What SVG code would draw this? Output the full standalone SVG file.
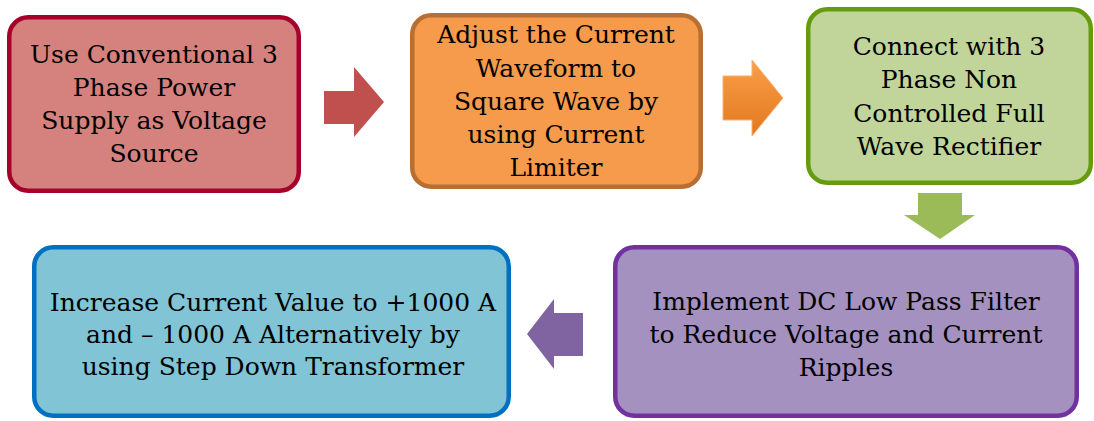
<svg xmlns="http://www.w3.org/2000/svg" width="1094" height="421" viewBox="0 0 1094 421">
  <defs>
    <linearGradient id="orangeArrow" x1="0" y1="0" x2="0" y2="1">
      <stop offset="0" stop-color="#FA9F48"/>
      <stop offset="1" stop-color="#E2781F"/>
    </linearGradient>
  </defs>
  <style>
    .box { stroke-width: 4.5; }
    .label { font-family: "DejaVu Serif", serif; font-size: 25px; fill: #000; text-anchor: middle; }
  </style>
  <rect width="1094" height="421" fill="#FFFFFF"/>

  <!-- process steps -->
  <g id="step-supply">
    <rect class="box" x="9.25" y="17.25" width="289.5" height="173.5" rx="19" fill="#D5827F" stroke="#A7002A"/>
    <text class="label" x="154" y="63">Use Conventional 3</text>
    <text class="label" x="154" y="96">Phase Power</text>
    <text class="label" x="154" y="129">Supply as Voltage</text>
    <text class="label" x="154" y="162">Source</text>
  </g>

  <g id="step-limiter">
    <rect class="box" x="412.25" y="15.25" width="288.5" height="171.5" rx="19" fill="#F69A4B" stroke="#B86F33"/>
    <text class="label" x="556" y="43">Adjust the Current</text>
    <text class="label" x="556" y="77">Waveform to</text>
    <text class="label" x="556" y="110">Square Wave by</text>
    <text class="label" x="556" y="143">using Current</text>
    <text class="label" x="556" y="176">Limiter</text>
  </g>

  <g id="step-rectifier">
    <rect class="box" x="808.25" y="9.25" width="282.5" height="173.5" rx="19" fill="#C1D59A" stroke="#679B0F"/>
    <text class="label" x="949" y="55">Connect with 3</text>
    <text class="label" x="949" y="88">Phase Non</text>
    <text class="label" x="949" y="122">Controlled Full</text>
    <text class="label" x="949" y="155">Wave Rectifier</text>
  </g>

  <g id="step-filter">
    <rect class="box" x="615.25" y="247.25" width="461.5" height="168.5" rx="19" fill="#A491C0" stroke="#7131A1"/>
    <text class="label" x="846" y="310">Implement DC Low Pass Filter</text>
    <text class="label" x="846" y="343">to Reduce Voltage and Current</text>
    <text class="label" x="846" y="376">Ripples</text>
  </g>

  <g id="step-transformer">
    <rect class="box" x="34.25" y="247.25" width="474.5" height="168.5" rx="19" fill="#81C4D6" stroke="#0270C0"/>
    <text class="label" x="273" y="311">Increase Current Value to +1000 A</text>
    <text class="label" x="273" y="343">and – 1000 A Alternatively by</text>
    <text class="label" x="273" y="375">using Step Down Transformer</text>
  </g>

  <!-- block arrows between steps -->
  <g id="connectors">
    <polygon points="324,91 354,91 354,67 384,102 354,137 354,124 324,124" fill="#C0504D"/>
    <polygon points="723,76 752,76 752,60 783,98 752,136 752,120 723,120" fill="url(#orangeArrow)" stroke="#F8B070" stroke-width="1"/>
    <polygon points="918,193 962,193 962,215 975,215 940,239 904,215 918,215" fill="#9BBB59"/>
    <polygon points="583,313 583,356 554,356 554,369 527,334 554,299 554,313" fill="#8064A2"/>
  </g>
</svg>
